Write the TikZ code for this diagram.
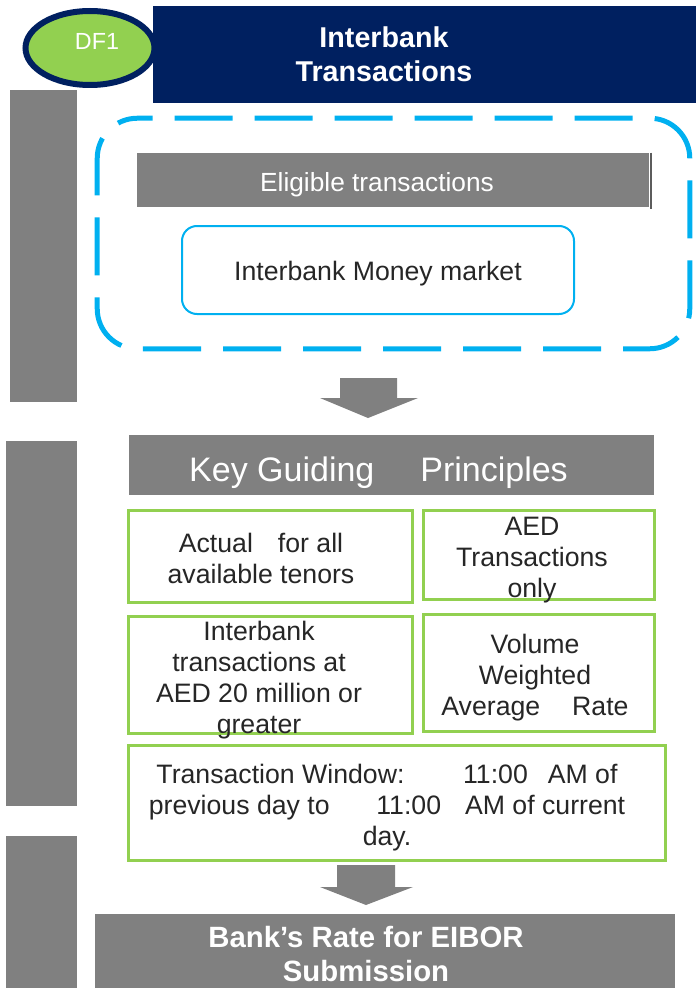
\documentclass[tikz,border=0pt]{standalone}
\usepackage{fontspec}
\setmainfont{Liberation Sans}
\usetikzlibrary{shapes.geometric}
\definecolor{navy}{HTML}{002060}
\definecolor{leaf}{HTML}{92D050}
\definecolor{sky}{HTML}{00B0F0}
\definecolor{slate}{HTML}{808080}
\definecolor{ink}{HTML}{262626}
\begin{document}
\begin{tikzpicture}[x=0.75pt,y=-0.75pt,inner sep=0pt,
  graybox/.style={fill=slate},
  bar/.style={fill=slate,minimum width=53.25pt},
  greenbox/.style={draw=leaf,line width=2.25pt,fill=white},
  boxtext/.style={text=ink,align=center,font=\fontsize{20}{23.25}\selectfont},
  whitetext/.style={text=white,align=center}]
\useasboundingbox (0,0) rectangle (696,988);
\node[bar,minimum width=50.25pt,minimum height=234pt] (bar1) at (43.5,246) {};
\node[bar,minimum height=273.75pt] (bar2) at (41.5,623.5) {};
\node[bar,minimum height=114pt] (bar3) at (41.5,912) {};
\node[fill=navy,minimum width=407.25pt,minimum height=72.75pt] (title) at (424.5,54.5) {};
\node[whitetext,font=\bfseries\fontsize{21.5}{25.5}\selectfont] (titletext) at (384,54.5) {Interbank\\Transactions};
\node[ellipse,draw=navy,line width=4.5pt,fill=leaf,minimum width=96.75pt,minimum height=55.5pt] (df) at (90,48) {};
\node[whitetext,font=\fontsize{17.5}{20}\selectfont] (dftext) at (97,41) {DF1};
\node[minimum width=444pt,minimum height=172.5pt] (pool) at (393.5,233.5) {};
\draw[sky,line width=3.75pt,dash pattern=on 43.5pt off 16.5pt,dash phase=43.5pt,rounded corners=30pt]
  ([xshift=41.6pt]pool.north west) -- (pool.north east) -- (pool.south east) -- (pool.south west) -- (pool.north west) -- ([xshift=41.6pt]pool.north west);
\node[graybox,minimum width=384pt,minimum height=40.5pt] (elig) at (393,180) {};
\node[whitetext,font=\fontsize{19.7}{23}\selectfont] (eligtext) at (377,184.5) {Eligible transactions};
\draw[ink!75,line width=1.5pt] ([xshift=1.5pt]elig.north east) -- ([xshift=1.5pt,yshift=-1.5pt]elig.south east);
\node[draw=sky,line width=1.5pt,rounded corners=11.25pt,minimum width=294pt,minimum height=66pt] (mm) at (378,270) {};
\node[boxtext] (mmtext) at (378,274) {Interbank Money market};
\fill[slate] (340,378) -- (397,378) -- (397,398) -- (418,398) -- (368,418) -- (320,398) -- (340,398) -- cycle;
\node[graybox,minimum width=393.75pt,minimum height=45pt] (kgp) at (391.5,465) {};
\node[whitetext,font=\fontsize{25.5}{30}\selectfont] (kgptext) at (378.5,473) {Key Guiding\hspace{34.5pt}Principles};
\node[greenbox,minimum width=213pt,minimum height=69pt] (actual) at (270.5,556.5) {};
\node[boxtext] (actualtext) at (261,558.5) {Actual\hspace{18.75pt}for all\\available tenors};
\node[greenbox,minimum width=173.25pt,minimum height=66.75pt] (aed) at (539,555) {};
\node[boxtext] (aedtext) at (532,560) {AED\\Transactions\\only};
\node[greenbox,minimum width=213pt,minimum height=87.75pt] (ibk) at (270.5,675) {};
\node[boxtext] (ibktext) at (259,680) {Interbank\\transactions at\\AED 20 million or\\greater};
\node[greenbox,minimum width=173.25pt,minimum height=87.75pt] (vwar) at (539,673) {};
\node[boxtext] (vwartext) at (535,678) {Volume\\Weighted\\Average\hspace{24pt}Rate};
\node[greenbox,minimum width=402.75pt,minimum height=86.25pt] (window) at (397,803) {};
\node[boxtext] (windowtext) at (387,808)
  {Transaction Window:\hspace{44pt}11:00\hspace{15pt}AM of\\previous day to\hspace{35pt}11:00\hspace{18pt}AM of current\\day.};
\fill[slate] (337,865) -- (395,865) -- (395,887) -- (413,887) -- (366,905) -- (320,887) -- (337,887) -- cycle;
\node[graybox,minimum width=435pt,minimum height=55.5pt] (submit) at (385,951) {};
\node[whitetext,font=\bfseries\fontsize{22}{26}\selectfont] (submittext) at (366,954) {Bank’s Rate for EIBOR\\Submission};
\end{tikzpicture}
\end{document}
